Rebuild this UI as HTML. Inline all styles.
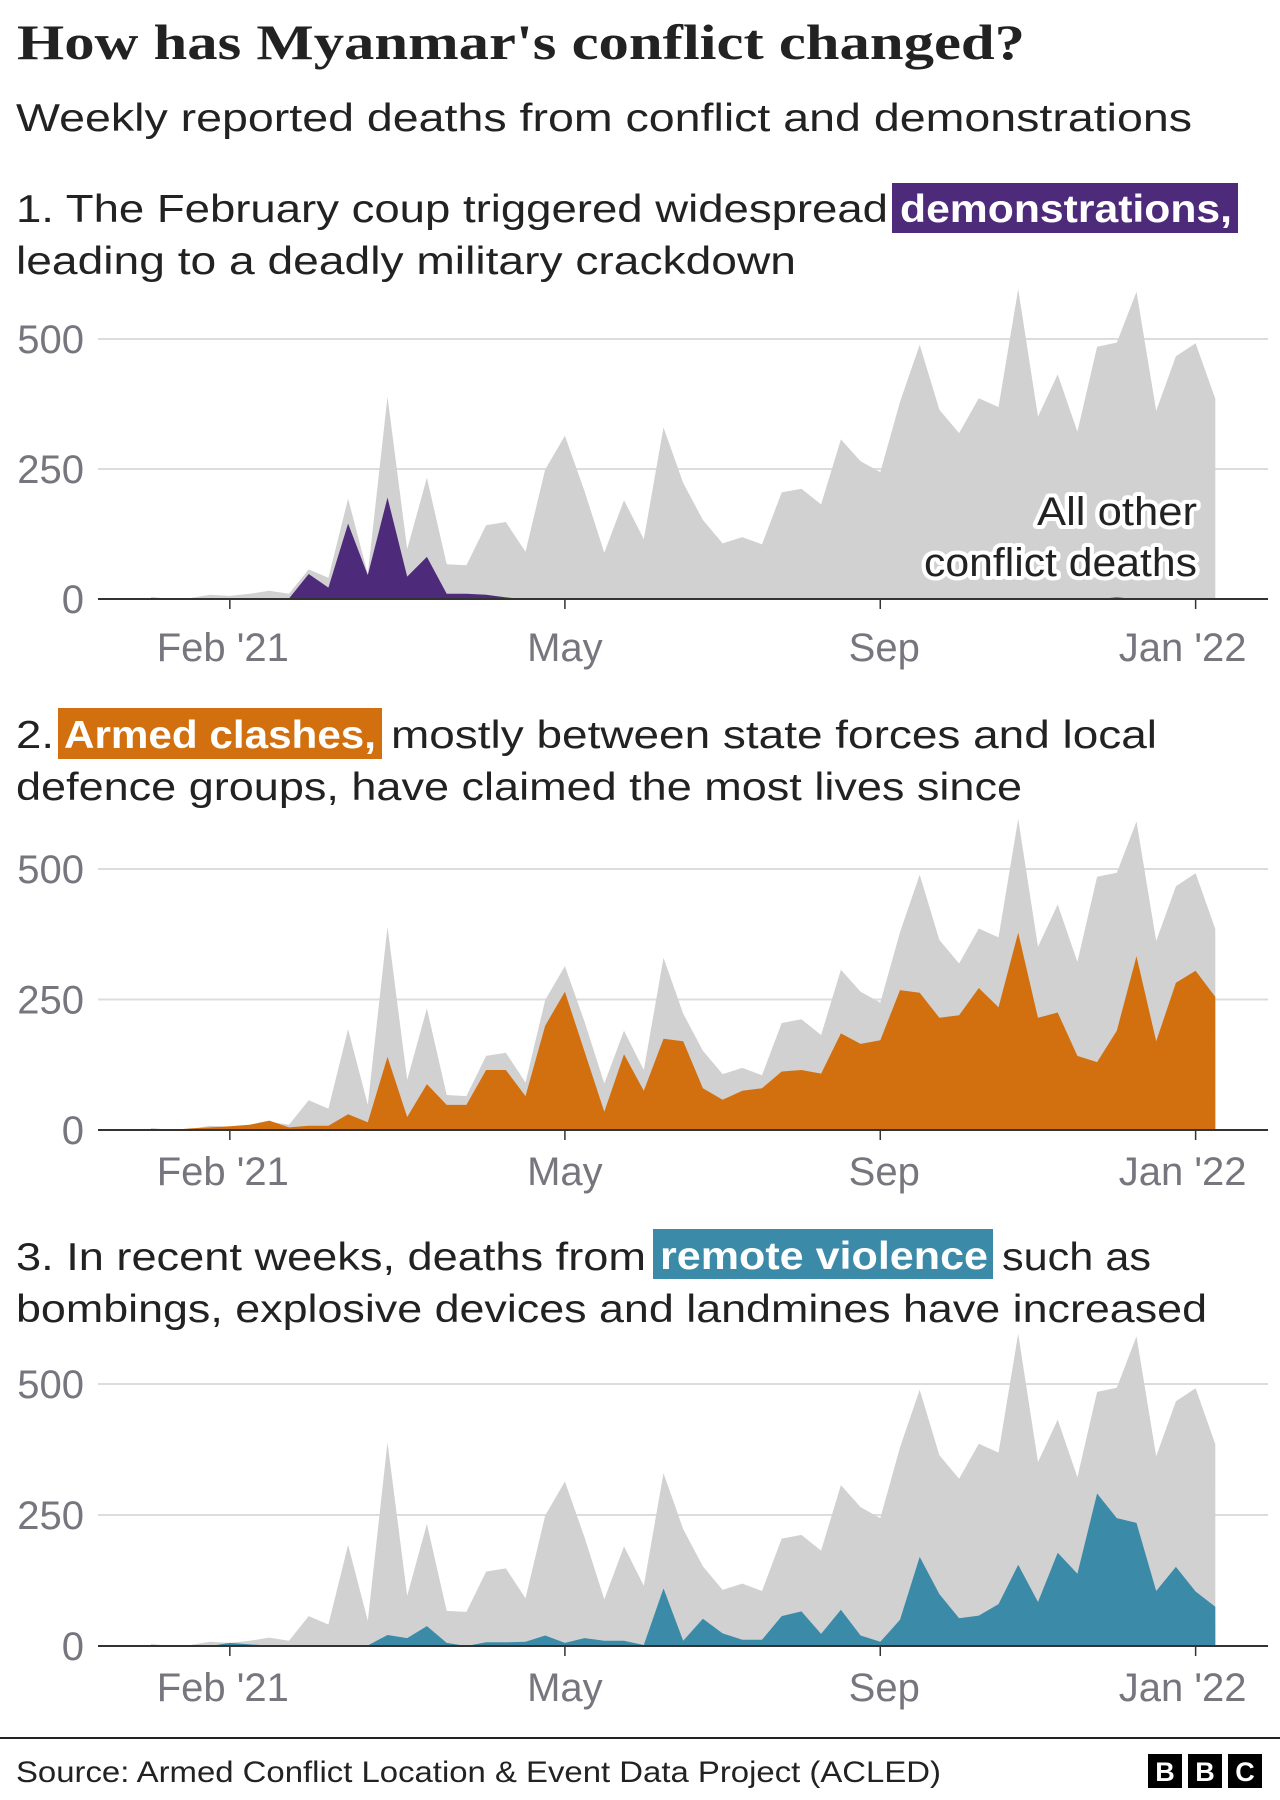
<!DOCTYPE html>
<html><head><meta charset="utf-8"><style>
html,body{margin:0;padding:0;background:#fff;}
svg{display:block;font-family:"Liberation Sans",sans-serif;}
</style></head><body>
<svg id="chart" width="1280" height="1800" viewBox="0 0 1280 1800" xmlns="http://www.w3.org/2000/svg">
<rect width="1280" height="1800" fill="#fff"/>
<text x="17" y="59" font-family="Liberation Serif, serif" font-weight="bold" font-size="50" fill="#222" textLength="1008" lengthAdjust="spacingAndGlyphs">How has Myanmar's conflict changed?</text>
<text x="16" y="131" font-size="39" fill="#222" textLength="1176" lengthAdjust="spacingAndGlyphs">Weekly reported deaths from conflict and demonstrations</text>

<g font-size="39" fill="#222">
<text x="16" y="222" textLength="872" lengthAdjust="spacingAndGlyphs">1. The February coup triggered widespread</text>
<rect x="892" y="183" width="346" height="50" fill="#4e2a7a"/>
<text x="900" y="222" fill="#fff" font-weight="bold" textLength="332" lengthAdjust="spacingAndGlyphs">demonstrations,</text>
<text x="16" y="274" textLength="780" lengthAdjust="spacingAndGlyphs">leading to a deadly military crackdown</text>
</g>

<g font-size="39" fill="#222">
<text x="16" y="748" textLength="38" lengthAdjust="spacingAndGlyphs">2.</text>
<rect x="58" y="708" width="324" height="51" fill="#d2700f"/>
<text x="64" y="748" fill="#fff" font-weight="bold" textLength="312" lengthAdjust="spacingAndGlyphs">Armed clashes,</text>
<text x="391" y="748" textLength="766" lengthAdjust="spacingAndGlyphs">mostly between state forces and local</text>
<text x="16" y="800" textLength="1006" lengthAdjust="spacingAndGlyphs">defence groups, have claimed the most lives since</text>
</g>

<g font-size="39" fill="#222">
<text x="16" y="1270" textLength="630" lengthAdjust="spacingAndGlyphs">3. In recent weeks, deaths from</text>
<rect x="653" y="1229" width="340" height="50" fill="#3a8aa8"/>
<text x="660" y="1269" fill="#fff" font-weight="bold" textLength="328" lengthAdjust="spacingAndGlyphs">remote violence</text>
<text x="1002" y="1270" textLength="149" lengthAdjust="spacingAndGlyphs">such as</text>
<text x="16" y="1322" textLength="1191" lengthAdjust="spacingAndGlyphs">bombings, explosive devices and landmines have increased</text>
</g>

<g id="charts"></g>

<line x1="0" y1="1738" x2="1280" y2="1738" stroke="#222" stroke-width="2"/>
<text x="16" y="1782" font-size="30" fill="#222" textLength="925" lengthAdjust="spacingAndGlyphs">Source: Armed Conflict Location &amp; Event Data Project (ACLED)</text>
<g font-weight="bold" font-size="27" fill="#fff" text-anchor="middle">
<rect x="1148" y="1754" width="34" height="34" fill="#000"/><text x="1165" y="1781">B</text>
<rect x="1188" y="1754" width="34" height="34" fill="#000"/><text x="1205" y="1781">B</text>
<rect x="1228" y="1754" width="34" height="34" fill="#000"/><text x="1245" y="1781">C</text>
</g>
</svg>
<script>
const weeks = Array.from({length:55},(_,i)=>i);
const totalDeaths = [4,0,2,8,6,10,16,10,57,41,193,48,389,96,233,67,65,142,148,91,249,314,207,89,190,115,330,223,152,107,119,105,205,212,182,307,265,244,379,489,364,319,386,369,596,351,432,322,485,493,591,362,467,492,385];
const demonstrations = [0,0,0,0,0,0,0,1,48,22,145,46,195,43,81,10,10,8,3,0,0,0,0,0,0,0,0,0,0,0,0,0,0,0,0,0,0,0,0,0,0,0,0,0,0,0,0,0,0,3,0,0,0,0,0];
const armedClashes = [2,0,3,5,7,10,18,5,8,8,30,15,140,25,88,48,48,115,115,65,200,265,150,35,145,75,175,170,80,58,75,80,112,115,108,185,165,172,268,263,215,220,272,235,378,215,225,142,130,190,333,170,282,305,255];
const remoteViolence = [0,0,0,0,6,3,1,1,1,1,1,1,21,15,38,6,0,7,7,8,20,6,15,10,10,2,110,10,52,24,12,12,57,66,23,69,20,8,50,170,99,53,58,80,155,84,178,138,291,244,235,105,151,104,75];
const yTicks = [0,250,500];
const tickWeeks = [4,21,37,53];
const tickLabels = ["Feb '21","May","Sep","Jan '22"];

const NS="http://www.w3.org/2000/svg";
const root=document.getElementById('charts');
const xScale = i => 151 + i*19.71;
function mk(tag,attrs,parent){const e=document.createElementNS(NS,tag);for(const k in attrs)e.setAttribute(k,attrs[k]);parent.appendChild(e);return e;}
function areaPath(vals,ys){let d='M'+xScale(0)+','+ys(0);vals.forEach((v,i)=>{d+='L'+xScale(i).toFixed(1)+','+ys(v).toFixed(1);});d+='L'+xScale(vals.length-1)+','+ys(0)+'Z';return d;}

const panels=[
 {y0:599,y500:339,series:demonstrations,color:'#4e2a7a',name:'demonstrations',label:661},
 {y0:1130,y500:869,series:armedClashes,color:'#d2700f',name:'armed-clashes',label:1185},
 {y0:1646,y500:1384,series:remoteViolence,color:'#3a8aa8',name:'remote-violence',label:1701}
];
const labelShift=[-7,0,4,-13];
panels.forEach((p,pi)=>{
 const g=mk('g',{},root);
 
 
 const ys=v=>p.y0-v*(p.y0-p.y500)/500;
 yTicks.forEach(t=>{
  if(t>0){const gl=mk('line',{x1:98,x2:1268,y1:ys(t),y2:ys(t),stroke:'#dcdcdc','stroke-width':2},g);
   
   }
  const tl=mk('text',{x:84,y:ys(t)+14,'text-anchor':'end','font-size':40,fill:'#77767f'},g);
  
  
  tl.textContent=t;
 });
 const bg=mk('path',{d:areaPath(totalDeaths,ys),fill:'#d1d1d1'},g);
 
 
 const fg=mk('path',{d:areaPath(p.series,ys),fill:p.color},g);
 
 
 const ax=mk('line',{x1:98,x2:1268,y1:p.y0,y2:p.y0,stroke:'#333','stroke-width':2},g);
 
 
 tickWeeks.forEach((w,k)=>{
  const tk=mk('line',{x1:xScale(w),x2:xScale(w),y1:p.y0,y2:p.y0+10,stroke:'#333','stroke-width':1.5},g);
  
  
  const lb=mk('text',{x:xScale(w)+labelShift[k],y:p.label,'text-anchor':'middle','font-size':40,fill:'#77767f'},g);
  
  
  lb.textContent=tickLabels[k];
 });
 if(pi===0){
  [['All other',160],['conflict deaths',273]].forEach((s,j)=>{
   const t=mk('text',{x:1197-s[1],y:525+j*51,'font-size':40,fill:'#222',stroke:'#fff','stroke-width':8,'stroke-linejoin':'round','paint-order':'stroke',textLength:s[1],lengthAdjust:'spacingAndGlyphs'},g);
   
   
   t.textContent=s[0];
  });
 }
});
</script>
</body></html>
